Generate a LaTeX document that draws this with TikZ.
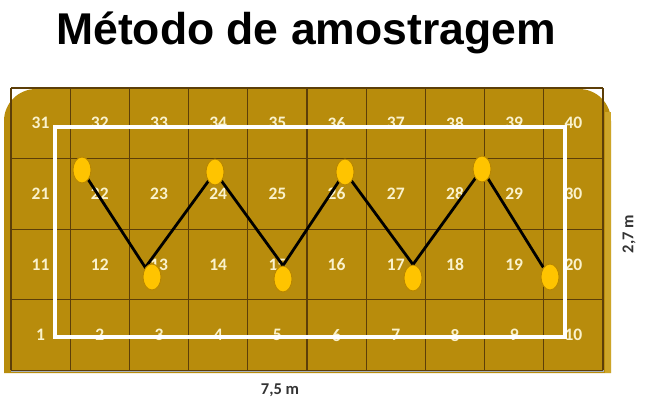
\documentclass[tikz,border=0pt]{standalone}
\usepackage{fontspec}
\setmainfont{Carlito}
\newfontfamily\titlefont{Liberation Sans}
\usetikzlibrary{shapes.geometric}

\definecolor{soil}{RGB}{184,140,12}
\definecolor{soiledge}{RGB}{205,165,40}
\definecolor{gridline}{RGB}{92,62,8}
\definecolor{cellnum}{RGB}{250,242,205}
\definecolor{dotfill}{RGB}{255,196,0}
\definecolor{dotedge}{RGB}{185,135,0}
\definecolor{frameline}{RGB}{165,175,190}

\pgfdeclarelayer{back}
\pgfdeclarelayer{mid}
\pgfsetlayers{back,mid,main}

\tikzset{
  cellno/.style={text=cellnum, font=\bfseries\fontsize{17.5}{17.5}\selectfont, inner sep=0pt},
  sample/.style={ellipse, fill=dotfill, draw=dotedge, line width=0.9pt,
    minimum width=18pt, minimum height=26pt, inner sep=0pt},
  zigzag/.style={line width=2.8pt, black},
  measure/.style={font=\bfseries\fontsize{16.5}{16.5}\selectfont, text=black!80}
}

\begin{document}
\begin{tikzpicture}[x=1pt,y=-1pt]
	\useasboundingbox (0,0) rectangle (645,410);

	% Title
	\node[anchor=base] (title) at (306,44) {\titlefont\bfseries\fontsize{44.5}{44.5}\selectfont Método de amostragem};

	\begin{pgfonlayer}{back}
	% Plot
	\fill[soil] (4,373) -- (4,121) arc[start angle=180, end angle=270, radius=32]
		-- (579,89) arc[start angle=270, end angle=360, radius=32] -- (611,373) -- cycle;
	\fill[soiledge] (605,112) rectangle (611,373);
	\draw[frameline, line width=0.6pt] (11,88) rectangle (603,371);
	\foreach \x in {0,...,10}
		\draw[gridline, line width=1.3pt] (11+59.2*\x,88) -- (11+59.2*\x,370.4);
	\foreach \y in {0,...,4}
		\draw[gridline, line width=1.3pt] (11,88+70.6*\y) -- (603,88+70.6*\y);

	% Cell numbers
	\foreach \r in {0,...,3}
		\foreach \c in {0,...,9} {
			\pgfmathtruncatemacro{\n}{10*\r+\c+1}
			\node[cellno] (n\n) at (40.6+59.2*\c,335.1-70.6*\r) {\n};
		}

	% Border of the sampled area
	\draw[white, line width=4pt] (55,127) rectangle (565,337);
	\end{pgfonlayer}

	% Samples
	\node[sample] (s1) at (82,170) {};
	\node[sample] (s2) at (152,277) {};
	\node[sample] (s3) at (215,172) {};
	\node[sample] (s4) at (283,279) {};
	\node[sample] (s5) at (345,172) {};
	\node[sample] (s6) at (413,278) {};
	\node[sample] (s7) at (482,169) {};
	\node[sample] (s8) at (550,277) {};

	% Path
	\begin{pgfonlayer}{mid}
	\draw[zigzag] (s1.center) -- (s2.north west) -- (s3.center) -- (s4.north)
		-- (s5.center) -- (s6.north) -- (s7.center) -- (s8.north west);
	\end{pgfonlayer}

	% Dimensions
	\node[measure] (width) at (280,390) {7,5 m};
	\node[measure, rotate=90] (height) at (629,234) {2,7 m};
\end{tikzpicture}
\end{document}
